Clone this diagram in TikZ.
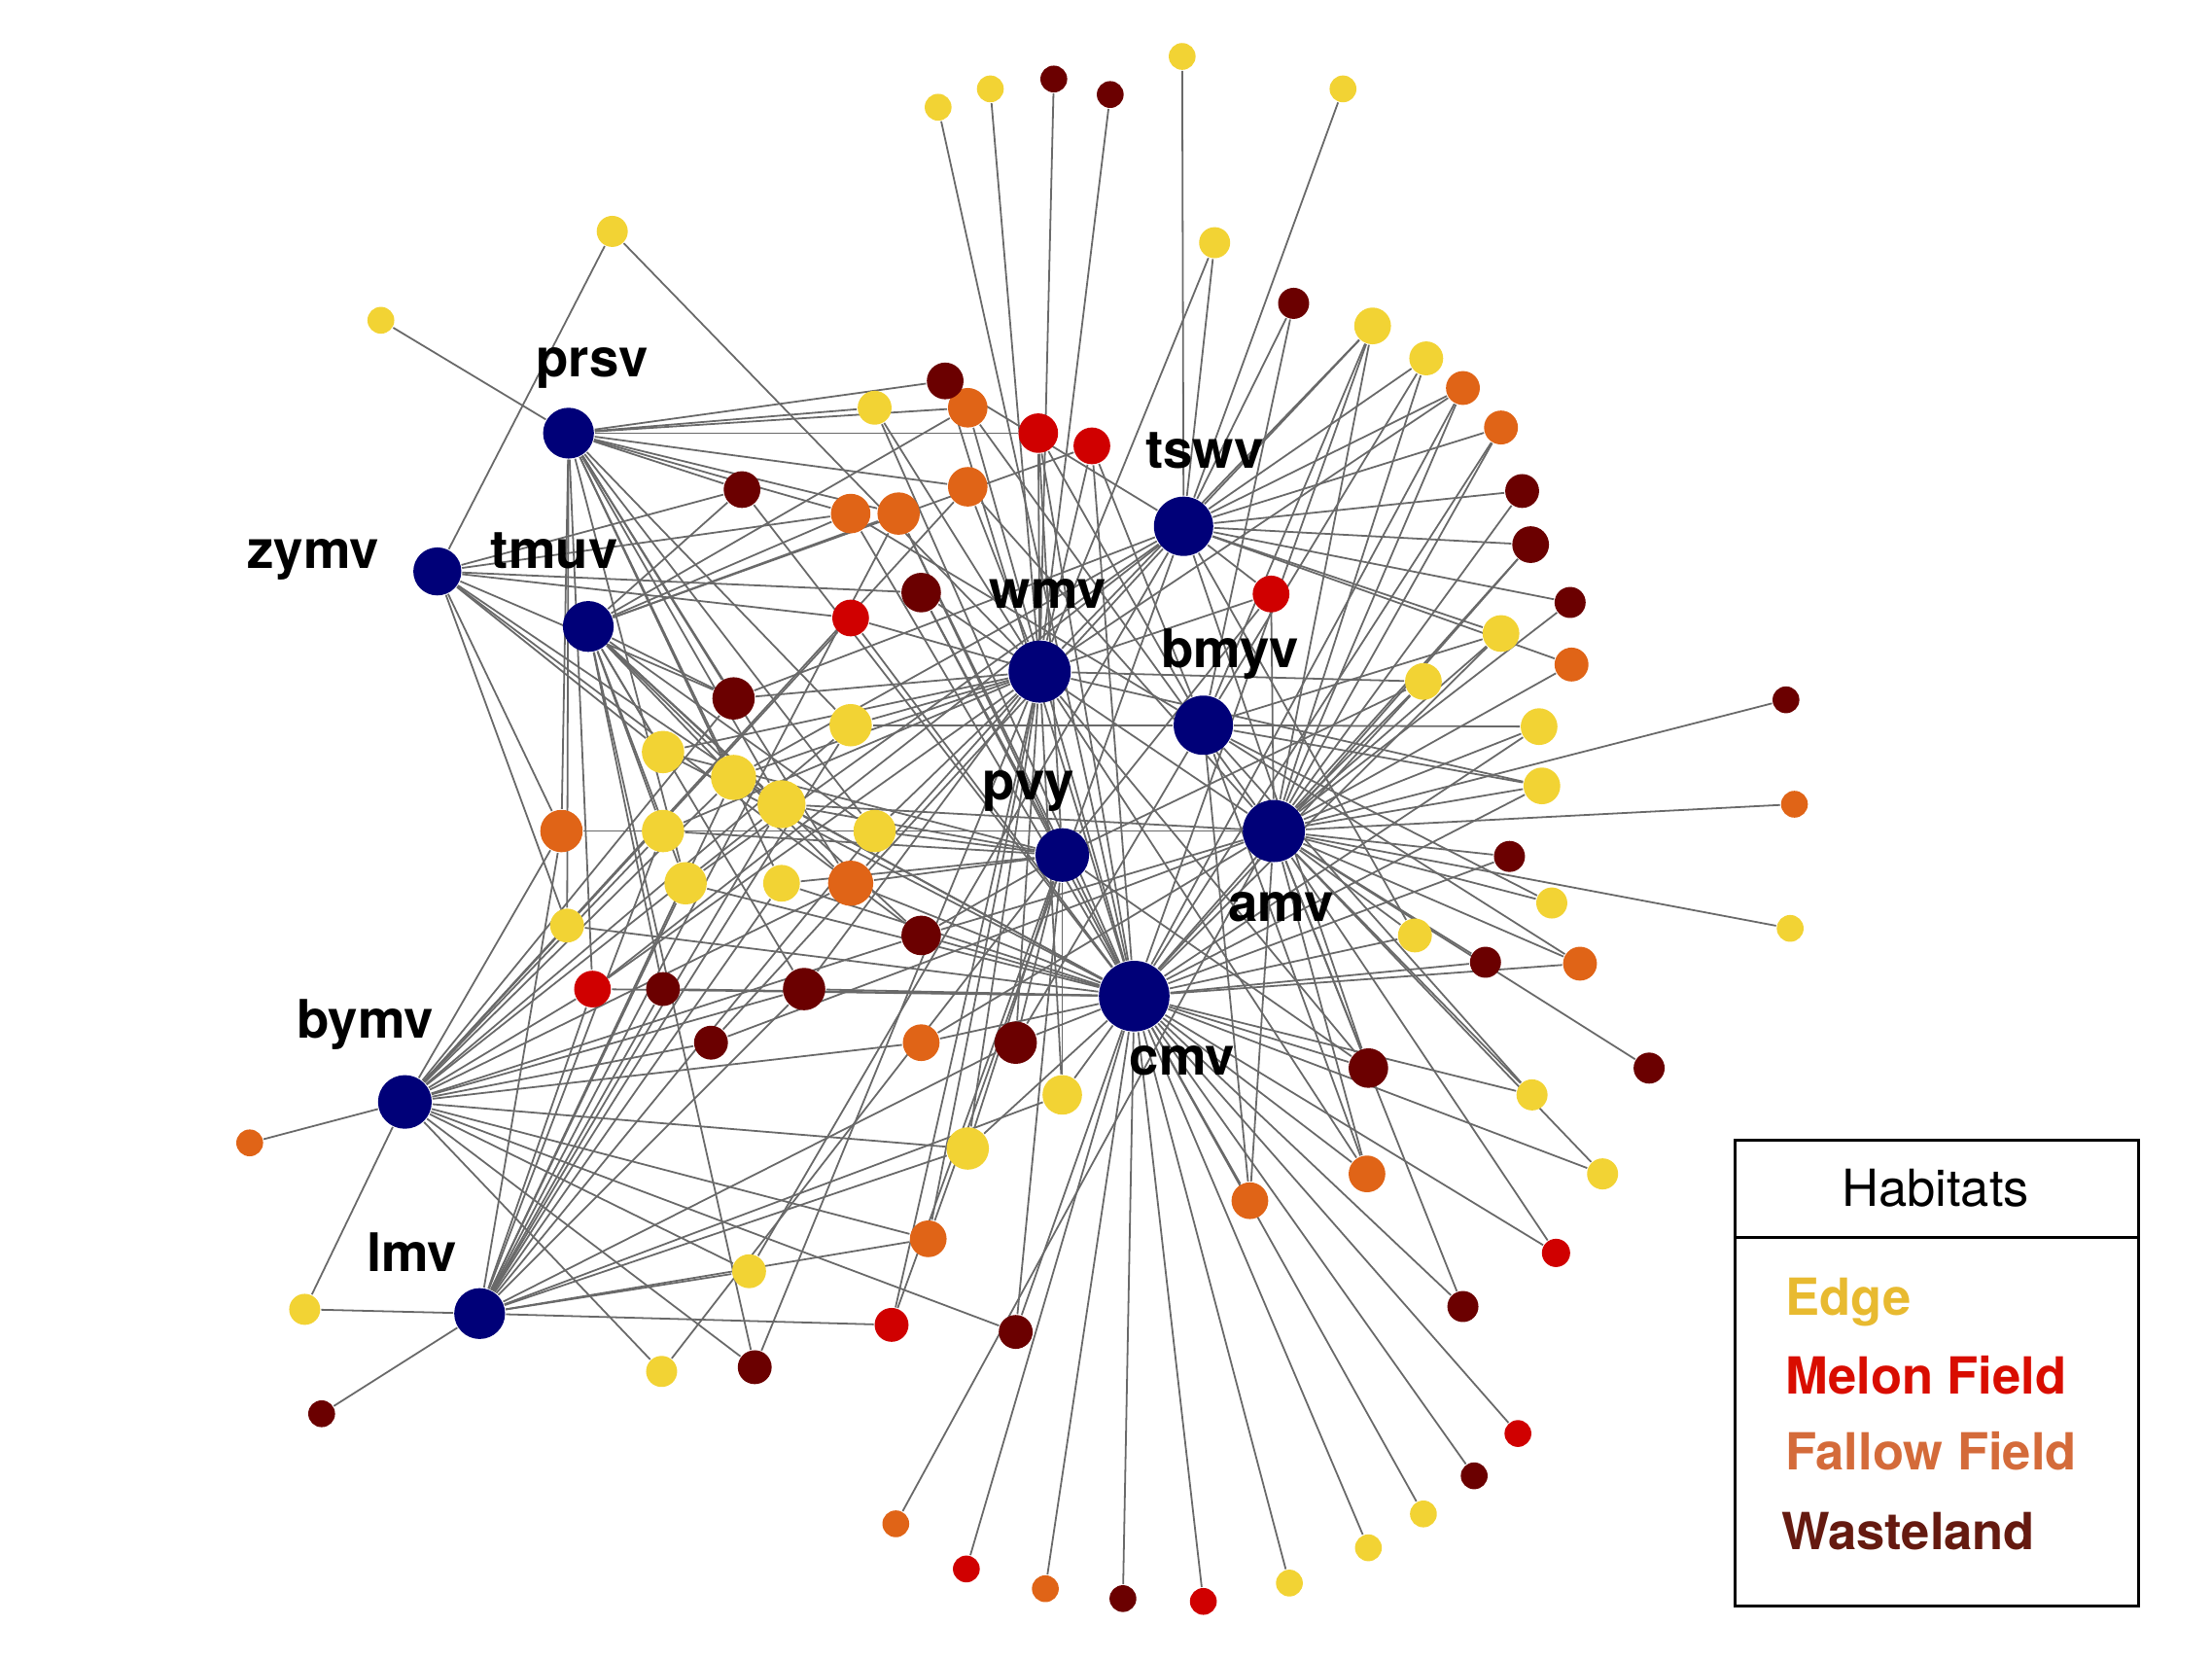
\documentclass[tikz,border=0pt]{standalone}
\usepackage{fontspec}
\setmainfont{TeX Gyre Heros}
\usetikzlibrary{backgrounds}

\definecolor{virblue}{RGB}{0,0,120}
\definecolor{cedge}{RGB}{242,211,52}
\definecolor{cmelon}{RGB}{208,0,0}
\definecolor{cfallow}{RGB}{224,100,23}
\definecolor{cwaste}{RGB}{107,0,0}
\definecolor{linkgray}{RGB}{105,105,105}
\definecolor{tedge}{RGB}{232,186,48}
\definecolor{tmelon}{RGB}{217,13,0}
\definecolor{tfallow}{RGB}{212,107,58}
\definecolor{twaste}{RGB}{101,26,16}

\tikzset{
	blob/.style={circle, inner sep=0pt, minimum size=#1*0.02cm},
	vir/.style={blob=#1, fill=virblue},
	hedge/.style={blob=#1, fill=cedge},
	hmelon/.style={blob=#1, fill=cmelon},
	hfallow/.style={blob=#1, fill=cfallow},
	hwaste/.style={blob=#1, fill=cwaste},
	link/.style={draw=linkgray, line width=0.35pt},
	vlab/.style={anchor=base, inner sep=0pt, font=\fontsize{10.7}{12}\selectfont\bfseries},
	ltext/.style={anchor=base west, inner sep=0pt, font=\fontsize{10.3}{12}\selectfont\bfseries},
}

\begin{document}
\begin{tikzpicture}[x=0.01cm, y=-0.01cm]
	\useasboundingbox (0,0) rectangle (1568,1176);

	% viruses
	\node[vir=18] (prsv) at (403,307) {};
	\node[vir=17] (zymv) at (310,405) {};
	\node[vir=18] (tmuv) at (417,444) {};
	\node[vir=22] (wmv) at (737,476) {};
	\node[vir=21] (tswv) at (839,373) {};
	\node[vir=21] (bmyv) at (853,514) {};
	\node[vir=19] (pvy) at (753,606) {};
	\node[vir=22] (amv) at (903,589) {};
	\node[vir=25] (cmv) at (804,706) {};
	\node[vir=19] (bymv) at (287,781) {};
	\node[vir=18] (lmv) at (340,931) {};

	\node[vlab] (prsvl) at (420,267) {prsv};
	\node[vlab] (zymvl) at (222,403) {zymv};
	\node[vlab] (tmuvl) at (393,403) {tmuv};
	\node[vlab] (wmvl) at (743,431) {wmv};
	\node[vlab] (tswvl) at (854,332) {tswv};
	\node[vlab] (bmyvl) at (872,473) {bmyv};
	\node[vlab] (pvyl) at (729,567) {pvy};
	\node[vlab] (amvl) at (908,653) {amv};
	\node[vlab] (cmvl) at (838,762) {cmv};
	\node[vlab] (bymvl) at (259,736) {bymv};
	\node[vlab] (lmvl) at (292,901) {lmv};

	% edge habitats
	\node[hedge=9.5] (e1) at (665,76) {};
	\node[hedge=9.5] (e2) at (702,63) {};
	\node[hedge=9.5] (e3) at (838,40) {};
	\node[hedge=9.5] (e4) at (952,63) {};
	\node[hedge=11] (e5) at (434,164) {};
	\node[hedge=9.5] (e6) at (270,227) {};
	\node[hedge=11] (e7) at (861,172) {};
	\node[hedge=13] (e8) at (973,231) {};
	\node[hedge=12] (e9) at (1011,254) {};
	\node[hedge=13] (e10) at (1064,449) {};
	\node[hedge=13] (e11) at (1009,483) {};
	\node[hedge=13] (e12) at (1091,515) {};
	\node[hedge=13] (e13) at (1093,557) {};
	\node[hedge=9.5] (e14) at (1269,658) {};
	\node[hedge=11] (e15) at (1100,640) {};
	\node[hedge=12] (e16) at (1003,663) {};
	\node[hedge=11] (e17) at (1086,776) {};
	\node[hedge=11] (e18) at (1136,832) {};
	\node[hedge=9.5] (e19) at (1009,1073) {};
	\node[hedge=9.5] (e20) at (970,1097) {};
	\node[hedge=9.5] (e21) at (914,1122) {};
	\node[hedge=15] (e22) at (686,814) {};
	\node[hedge=14] (e23) at (753,776) {};
	\node[hedge=12] (e24) at (402,656) {};
	\node[hedge=15] (e25) at (470,589) {};
	\node[hedge=15] (e26) at (486,626) {};
	\node[hedge=15] (e27) at (470,533) {};
	\node[hedge=16] (e28) at (520,551) {};
	\node[hedge=17] (e29) at (554,570) {};
	\node[hedge=13] (e30) at (554,626) {};
	\node[hedge=15] (e31) at (620,589) {};
	\node[hedge=15] (e32) at (603,514) {};
	\node[hedge=12] (e33) at (620,289) {};
	\node[hedge=12] (e34) at (531,901) {};
	\node[hedge=11] (e35) at (469,972) {};
	\node[hedge=11] (e36) at (216,928) {};

	% melon field habitats
	\node[hmelon=10] (m1) at (1103,888) {};
	\node[hmelon=9.5] (m2) at (1076,1016) {};
	\node[hmelon=9.5] (m3) at (853,1135) {};
	\node[hmelon=9.5] (m4) at (685,1112) {};
	\node[hmelon=12] (m5) at (632,939) {};
	\node[hmelon=13] (m6) at (420,701) {};
	\node[hmelon=13] (m7) at (603,438) {};
	\node[hmelon=14] (m8) at (736,307) {};
	\node[hmelon=13] (m9) at (774,316) {};
	\node[hmelon=13] (m10) at (901,421) {};

	% fallow field habitats
	\node[hfallow=12] (f1) at (1037,275) {};
	\node[hfallow=12] (f2) at (1064,303) {};
	\node[hfallow=12] (f3) at (1114,471) {};
	\node[hfallow=9.5] (f4) at (1272,570) {};
	\node[hfallow=12] (f5) at (1120,683) {};
	\node[hfallow=9.5] (f6) at (741,1126) {};
	\node[hfallow=9.5] (f7) at (635,1080) {};
	\node[hfallow=13] (f8) at (969,832) {};
	\node[hfallow=13] (f9) at (886,851) {};
	\node[hfallow=13] (f10) at (658,878) {};
	\node[hfallow=13] (f11) at (653,739) {};
	\node[hfallow=15] (f12) at (398,589) {};
	\node[hfallow=16] (f13) at (603,626) {};
	\node[hfallow=14] (f14) at (603,364) {};
	\node[hfallow=15] (f15) at (637,364) {};
	\node[hfallow=14] (f16) at (686,345) {};
	\node[hfallow=14] (f17) at (686,289) {};
	\node[hfallow=9.5] (f18) at (177,810) {};

	% wasteland habitats
	\node[hwaste=9.5] (w1) at (747,56) {};
	\node[hwaste=9.5] (w2) at (787,67) {};
	\node[hwaste=11] (w3) at (917,215) {};
	\node[hwaste=12] (w4) at (1079,348) {};
	\node[hwaste=13] (w5) at (1085,386) {};
	\node[hwaste=11] (w6) at (1113,427) {};
	\node[hwaste=9.5] (w7) at (1266,496) {};
	\node[hwaste=11] (w8) at (1070,607) {};
	\node[hwaste=11] (w9) at (1053,682) {};
	\node[hwaste=11] (w10) at (1169,757) {};
	\node[hwaste=11] (w11) at (1037,926) {};
	\node[hwaste=9.5] (w12) at (1045,1046) {};
	\node[hwaste=9.5] (w13) at (796,1133) {};
	\node[hwaste=14] (w14) at (970,757) {};
	\node[hwaste=12] (w15) at (720,944) {};
	\node[hwaste=15] (w16) at (720,739) {};
	\node[hwaste=14] (w17) at (653,663) {};
	\node[hwaste=15] (w18) at (570,701) {};
	\node[hwaste=12] (w19) at (504,739) {};
	\node[hwaste=12] (w20) at (470,701) {};
	\node[hwaste=15] (w21) at (520,495) {};
	\node[hwaste=14] (w22) at (653,420) {};
	\node[hwaste=13] (w23) at (670,270) {};
	\node[hwaste=13] (w24) at (526,347) {};
	\node[hwaste=12] (w25) at (535,969) {};
	\node[hwaste=9.5] (w26) at (228,1002) {};

	% links
	\begin{scope}[on background layer]
	\foreach \h in {e6,e24,e26,e28,e29,e30,e31,e32,e33,m6,m8,f12,f13,f14,f15,f16,f17,w21,w23,w24}
		\draw[link] (prsv) -- (\h);
	\foreach \h in {e5,e24,e27,e29,m7,f12,f14,w17,w21,w22,w24}
		\draw[link] (zymv) -- (\h);
	\foreach \h in {e25,e26,e27,e28,e29,e31,m9,f13,f14,f15,f17,w17,w18,w20,w21,w24,w25}
		\draw[link] (tmuv) -- (\h);
	\foreach \h in {e2,e5,e7,e8,e11,e13,e22,e23,e25,e27,e28,e31,e32,e33,m5,m6,m7,m8,m9,m10,f1,f8,f10,f13,f16,w1,w2,w14,w16,w18,w21,w25}
		\draw[link] (wmv) -- (\h);
	\foreach \h in {e3,e4,e7,e8,e9,e10,e16,e26,e28,e34,m6,m10,f1,f2,f3,f10,w3,w4,w5,w6,w14,w19,w21,w23}
		\draw[link] (tswv) -- (\h);
	\foreach \h in {e8,e9,e10,e12,e13,e15,e17,e32,m8,m9,f5,f8,f9,f14,w3,w16}
		\draw[link] (bmyv) -- (\h);
	\foreach \h in {e11,e22,e23,e25,e27,e29,e30,e31,e35,m5,m8,m10,f13,f15,w14,w15,w16,w17,w22}
		\draw[link] (pvy) -- (\h);
	\foreach \h in {e8,e9,e10,e11,e12,e13,e14,e15,e16,e17,e18,e29,e31,m1,m10,f1,f2,f3,f4,f5,f7,f8,f9,f11,f12,f16,f17,w4,w5,w6,w7,w8,w9,w10,w11,w14,w17,w19,w22}
		\draw[link] (amv) -- (\h);
	\foreach \h in {e1,e8,e10,e11,e12,e13,e16,e17,e18,e19,e20,e21,e22,e23,e24,e26,e27,e28,e29,e30,e33,m1,m2,m3,m4,m6,m7,m8,m9,f1,f2,f5,f6,f8,f9,f11,f13,f14,f15,f17,w5,w8,w9,w11,w12,w13,w14,w15,w16,w17,w18,w20,w22,w23,w24}
		\draw[link] (cmv) -- (\h);
	\foreach \h in {e22,e24,e25,e28,e29,e32,e34,e35,e36,m6,m7,f10,f11,f12,f13,f16,f18,w15,w17,w18,w19,w21,w25}
		\draw[link] (bymv) -- (\h);
	\foreach \h in {e22,e23,e25,e26,e28,e29,e30,e31,e32,e34,e36,m5,m6,f10,f12,f15,w16,w18,w20,w26}
		\draw[link] (lmv) -- (\h);
	\end{scope}

	% legend
	\draw[line width=0.6pt] (1230,808) rectangle (1516,1138);
	\draw[line width=0.6pt] (1230,877) -- (1516,877);
	\node[anchor=base, inner sep=0pt, font=\fontsize{10.3}{12}\selectfont] (legtitle) at (1372,855) {Habitats};
	\node[ltext, text=tedge] (legedge) at (1265,932) {Edge};
	\node[ltext, text=tmelon] (legmelon) at (1265,988) {Melon Field};
	\node[ltext, text=tfallow] (legfallow) at (1265,1042) {Fallow Field};
	\node[ltext, text=twaste] (legwaste) at (1262,1098) {Wasteland};
\end{tikzpicture}
\end{document}
